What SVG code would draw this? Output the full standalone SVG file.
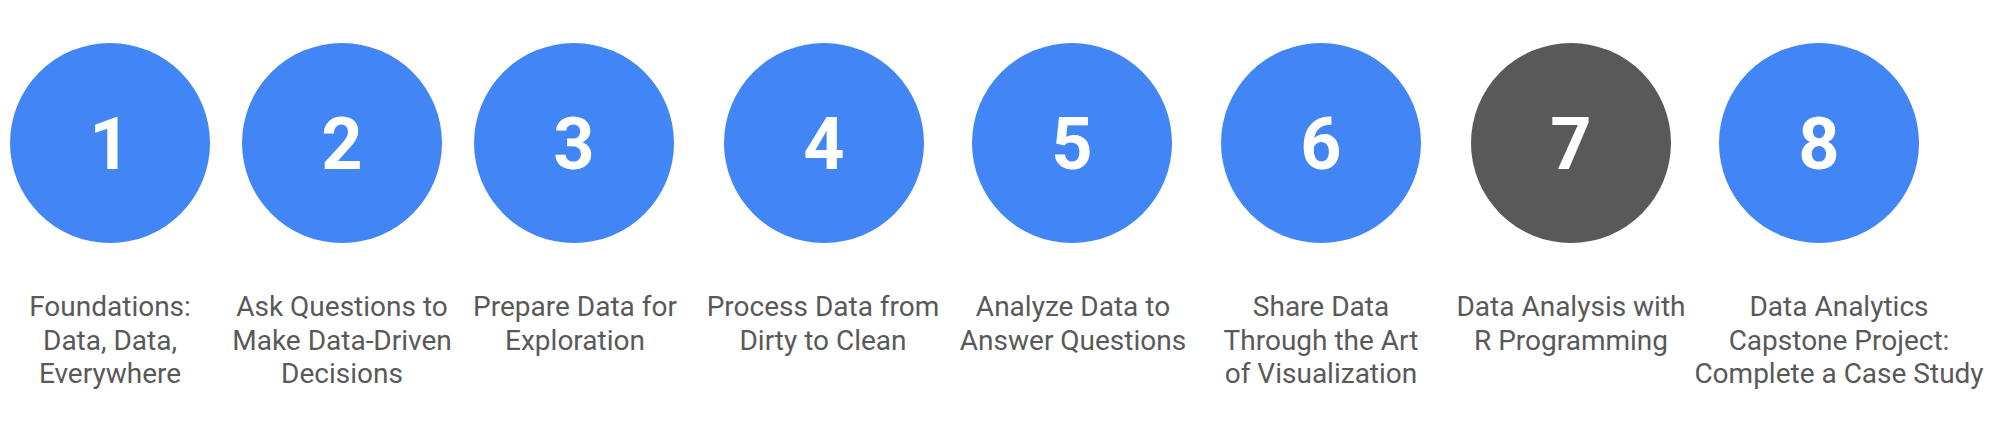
<svg xmlns="http://www.w3.org/2000/svg" width="1999" height="421" viewBox="0 0 1999 421">
<style>
.c{fill:#4285F4}
.d{fill:#595959}
.n{font-family:Roboto,"Liberation Sans",sans-serif;font-weight:700;font-size:72px;fill:#ffffff;text-anchor:middle}
.t{font-family:Roboto,"Liberation Sans",sans-serif;font-weight:400;font-size:28px;fill:#595959;text-anchor:middle}
</style>
<rect width="1999" height="421" fill="#ffffff"/>
<g id="connectors"></g>
<g id="node1"><circle class="c" cx="110" cy="143" r="100"/><text class="n" x="110" y="169">1</text>
<text class="t" x="110" y="316">Foundations:</text><text class="t" x="110" y="350">Data, Data,</text><text class="t" x="110" y="383">Everywhere</text></g>
<g id="node2"><circle class="c" cx="342" cy="143" r="100"/><text class="n" x="342" y="169">2</text>
<text class="t" x="342" y="316">Ask Questions to</text><text class="t" x="342" y="350">Make Data-Driven</text><text class="t" x="342" y="383">Decisions</text></g>
<g id="node3"><circle class="c" cx="574" cy="143" r="100"/><text class="n" x="574" y="169">3</text>
<text class="t" x="575" y="316">Prepare Data for</text><text class="t" x="575" y="350">Exploration</text></g>
<g id="node4"><circle class="c" cx="824" cy="143" r="100"/><text class="n" x="824" y="169">4</text>
<text class="t" x="823" y="316">Process Data from</text><text class="t" x="823" y="350">Dirty to Clean</text></g>
<g id="node5"><circle class="c" cx="1072" cy="143" r="100"/><text class="n" x="1072" y="169">5</text>
<text class="t" x="1073" y="316">Analyze Data to</text><text class="t" x="1073" y="350">Answer Questions</text></g>
<g id="node6"><circle class="c" cx="1321" cy="143" r="100"/><text class="n" x="1321" y="169">6</text>
<text class="t" x="1321" y="316">Share Data</text><text class="t" x="1321" y="350">Through the Art</text><text class="t" x="1321" y="383">of Visualization</text></g>
<g id="node7"><circle class="d" cx="1571" cy="143" r="100"/><text class="n" x="1571" y="169">7</text>
<text class="t" x="1571" y="316">Data Analysis with</text><text class="t" x="1571" y="350">R Programming</text></g>
<g id="node8"><circle class="c" cx="1819" cy="143" r="100"/><text class="n" x="1819" y="169">8</text>
<text class="t" x="1839" y="316">Data Analytics</text><text class="t" x="1839" y="350">Capstone Project:</text><text class="t" x="1839" y="383">Complete a Case Study</text></g>
</svg>
